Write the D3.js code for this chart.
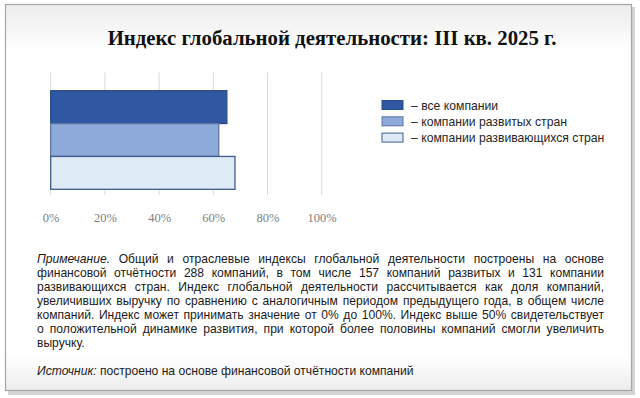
<!DOCTYPE html>
<html><head><meta charset="utf-8">
<script src="https://cdn.jsdelivr.net/npm/d3@7/dist/d3.min.js"></script>
<style>html,body{margin:0;padding:0;background:#fff;}svg{display:block;}</style>
</head><body>
<script>
const title = "Индекс глобальной деятельности: III кв. 2025 г.";
const series = ["все компании", "компании развитых стран", "компании развивающихся стран"];
const values = [0.65, 0.62, 0.68];
const fills = ["#2f57a2", "#8eaadb", "#deeaf6"];
const strokes = ["#2b4b8a", "#5d739f", "#3f5a8f"];
const ticks = [0, 0.2, 0.4, 0.6, 0.8, 1.0];
const noteLines = [
 ["Примечание.", "Общий и отраслевые индексы глобальной деятельности построены на основе"],
 ["", "финансовой отчётности 288 компаний, в том числе 157 компаний развитых и 131 компании"],
 ["", "развивающихся стран. Индекс глобальной деятельности рассчитывается как доля компаний,"],
 ["", "увеличивших выручку по сравнению с аналогичным периодом предыдущего года, в общем числе"],
 ["", "компаний. Индекс может принимать значение от 0% до 100%. Индекс выше 50% свидетельствует"],
 ["", "о положительной динамике развития, при которой более половины компаний смогли увеличить"],
 ["", "выручку."]
];
const sourceLabel = "Источник:";
const sourceText = "построено на основе финансовой отчётности компаний";

const W = 640, H = 398;
const svg = d3.select("body").append("svg").attr("width", W).attr("height", H);
const defs = svg.append("defs");
const g1 = defs.append("linearGradient").attr("id","bg").attr("x1",0).attr("y1",0).attr("x2",0).attr("y2",1);
g1.append("stop").attr("offset","0").attr("stop-color","#ececec");
g1.append("stop").attr("offset","0.12").attr("stop-color","#ffffff");
g1.append("stop").attr("offset","0.91").attr("stop-color","#ffffff");
g1.append("stop").attr("offset","1").attr("stop-color","#ececec");

svg.append("rect").attr("x",8).attr("y",7).attr("width",627).attr("height",388).attr("fill","#d4d4d4");
svg.append("rect").attr("x",5.5).attr("y",4.5).attr("width",626).attr("height",386)
  .attr("fill","url(#bg)").attr("stroke","#a6a6a6").attr("stroke-width",1.2);

svg.append("text").attr("x",332).attr("y",45).attr("text-anchor","middle")
  .attr("font-family","'Liberation Serif', 'DejaVu Serif', serif").attr("font-weight","bold")
  .attr("font-size",20.8).attr("fill","#111").text(title);

const x = d3.scaleLinear().domain([0,1]).range([50.7, 321.7]);
const y = d3.scaleBand().domain(series).range([90.7, 189.3]).padding(0);

const grid = svg.append("g");
grid.selectAll("line").data(ticks).join("line")
  .attr("x1", d=>x(d)).attr("x2", d=>x(d)).attr("y1",72.5).attr("y2",195)
  .attr("stroke","#d9d9d9").attr("stroke-width",1);

const axis = d3.axisBottom(x).tickValues(ticks).tickFormat(d3.format(".0%")).tickSize(0).tickPadding(0);
const ax = svg.append("g").attr("transform","translate(0,213)").call(axis);
ax.select(".domain").remove();
ax.selectAll("text").attr("font-family","'Liberation Serif', serif").attr("font-size",12.5).attr("fill","#808080");

svg.append("g").selectAll("rect").data(series).join("rect")
  .attr("x", x(0)).attr("y", d=>y(d))
  .attr("width", (d,i)=>x(values[i])-x(0)).attr("height", y.bandwidth())
  .attr("fill", (d,i)=>fills[i]).attr("stroke",(d,i)=>strokes[i]).attr("stroke-width",1.3);

const leg = svg.append("g");
series.forEach((s,i)=>{
  const yy = 100.5 + i*16.3;
  leg.append("rect").attr("x",382).attr("y",yy).attr("width",21).attr("height",9)
    .attr("fill",fills[i]).attr("stroke",strokes[i]).attr("stroke-width",1);
  leg.append("text").attr("x",411).attr("y",yy+9)
    .attr("font-family","'Liberation Sans', Arial, sans-serif").attr("font-size",12.2).attr("fill","#262626")
    .text("– " + s);
});

const noteX0 = 37, noteX1 = 604, fs = 12.1;
const noteG = svg.append("g").attr("font-family","'Liberation Sans', Arial, sans-serif").attr("font-size",fs).attr("fill","#1a1a1a");
noteLines.forEach((ln,i)=>{
  const yy = 263 + i*14;
  const t = noteG.append("text").attr("x",noteX0).attr("y",yy);
  if (ln[0]) { t.append("tspan").attr("font-style","italic").text(ln[0] + " "); }
  t.append("tspan").text(ln[1]);
  if (i < noteLines.length-1) {
    const w = t.node().getComputedTextLength();
    const nSpaces = (ln[0] ? 1 : 0) + (ln[1].split(" ").length - 1);
    const ws = (noteX1 - noteX0 - w)/nSpaces;
    t.attr("word-spacing", ws);
  }
});
const src = noteG.append("text").attr("x",noteX0).attr("y",375);
src.append("tspan").attr("font-style","italic").text(sourceLabel + " ");
src.append("tspan").text(sourceText);
</script>
</body></html>
